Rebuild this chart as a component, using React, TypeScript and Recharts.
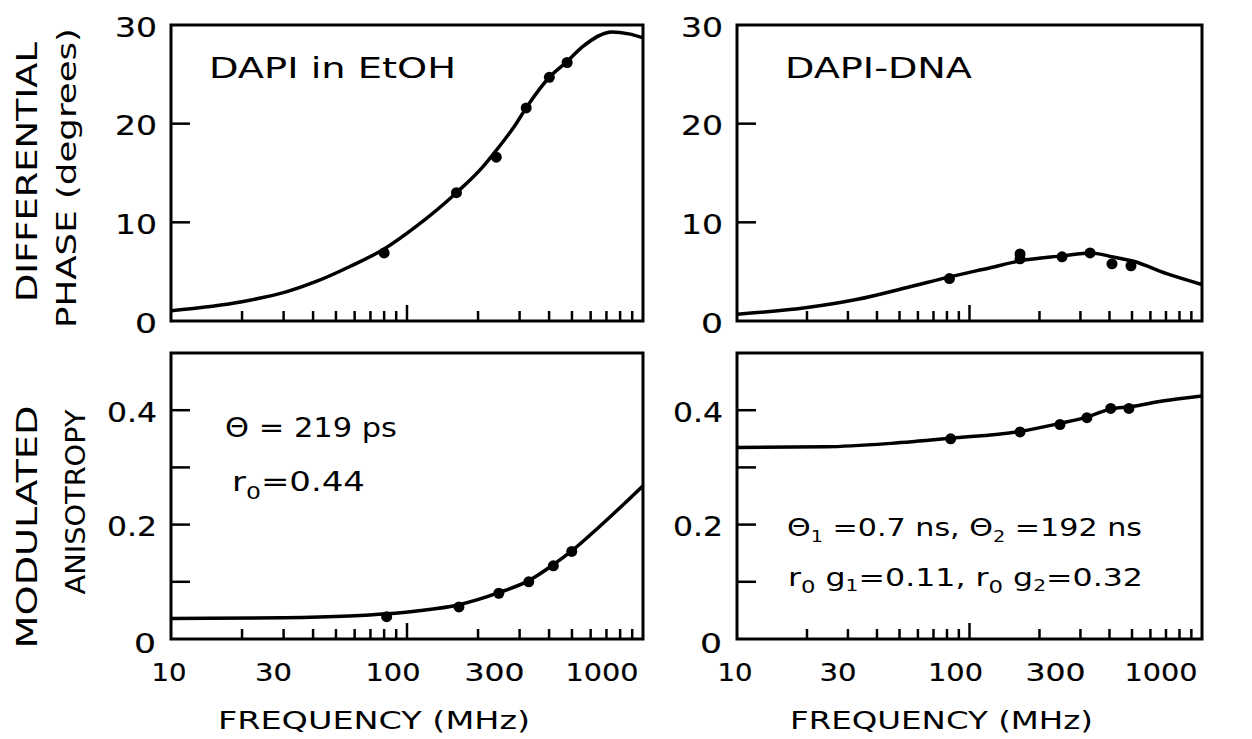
import { ComposedChart, Line, Scatter, XAxis, YAxis, ReferenceArea } from 'recharts';

const FONT = '"DejaVu Sans", sans-serif';

const freqTicks = [10, 20, 30, 40, 50, 60, 70, 80, 90, 100, 200, 300, 400, 500, 600, 700, 800, 900, 1000];
const freqLabels = [10, 30, 100, 300, 1000];
const phaseTicks = [0, 10, 20, 30];
const anisoTicks = [0, 0.1, 0.2, 0.3, 0.4, 0.5];
const anisoLabels = [0, 0.2, 0.4];

// DAPI in EtOH, differential phase
const etohPhaseFitFreq = [10, 20, 31, 41, 57, 80, 109, 162, 209, 239, 290, 320, 401, 477, 555, 740, 871, 1000];
const etohPhaseFitVal = [1.05, 1.96, 2.97, 3.98, 5.5, 7.3, 9.56, 13.0, 15.6, 17.3, 20.0, 21.6, 24.7, 26.3, 27.8, 29.3, 29.1, 28.7];
const etohPhaseFreq = [80, 162, 239, 320, 401, 477];
const etohPhaseVal = [6.9, 13.0, 16.6, 21.6, 24.7, 26.2];

// DAPI-DNA, differential phase
const dnaPhaseFitFreq = [10, 20, 33, 54, 83, 123, 166, 251, 332, 413, 507, 705, 1000];
const dnaPhaseFitVal = [0.68, 1.36, 2.2, 3.4, 4.5, 5.4, 6.1, 6.6, 6.9, 6.5, 6.05, 4.8, 3.7];
const dnaPhaseFreq = [82, 165, 165, 250, 330, 410, 495];
const dnaPhaseVal = [4.3, 6.8, 6.3, 6.5, 6.9, 5.8, 5.6];

// DAPI in EtOH, modulated anisotropy
const etohAnisoFitFreq = [10, 30, 57, 82, 110, 166, 245, 328, 417, 499, 660, 830, 1000];
const etohAnisoFitVal = [0.036, 0.037, 0.04, 0.044, 0.049, 0.06, 0.081, 0.102, 0.13, 0.154, 0.198, 0.236, 0.268];
const etohAnisoFreq = [82, 166, 245, 328, 417, 499];
const etohAnisoVal = [0.039, 0.056, 0.08, 0.1, 0.128, 0.153];

// DAPI-DNA, modulated anisotropy
const dnaAnisoFitFreq = [10, 24, 46, 83, 165, 245, 320, 405, 490, 676, 1000];
const dnaAnisoFitVal = [0.335, 0.336, 0.342, 0.351, 0.363, 0.377, 0.388, 0.402, 0.406, 0.416, 0.425];
const dnaAnisoFreq = [83, 165, 245, 320, 405, 485];
const dnaAnisoVal = [0.35, 0.362, 0.375, 0.387, 0.403, 0.403];

const toRows = (f: number[], v: number[]) => f.map((x, i) => ({ f: x, y: v[i] }));

const labelShift: Record<number, number> = { 10: -2, 30: -10, 100: -14, 300: -25, 1000: -41 };
const labelWidth: Record<number, number> = { 10: 35, 30: 37, 100: 55, 300: 60, 1000: 73 };

function FreqTick(props: any) {
  const { x, y, payload, showLabels } = props;
  const v = payload.value;
  const len = v === 100 ? 16 : v === 10 || v === 1000 ? 0 : 10;
  return (
    <g>
      {len > 0 && <line x1={x} y1={y} x2={x} y2={y - len} stroke="#000" strokeWidth={2.5} />}
      {showLabels && freqLabels.includes(v) && (
        <text
          x={x + labelShift[v] - labelWidth[v] / 2}
          y={y + 42}
          fontSize={25}
          fontFamily={FONT}
          fill="#000"
          stroke="#000"
          strokeWidth={0.2}
          textLength={labelWidth[v]}
          lengthAdjust="spacingAndGlyphs"
        >
          {v}
        </text>
      )}
    </g>
  );
}

function ValueTick(props: any) {
  const { x, y, payload, labels, lo, hi, bottomRow } = props;
  const v = payload.value;
  const edge = v === lo || v === hi;
  const show = labels.includes(v);
  const lowZero = bottomRow && v === 0;
  const label = String(v);
  const w = label.length === 1 ? 22 : label.length === 2 ? 42 : 50;
  const right = lowZero ? x - 15 : x - 14;
  return (
    <g>
      {!edge && <line x1={x} y1={y} x2={x + 19} y2={y} stroke="#000" strokeWidth={2.5} />}
      {show && (
        <text
          x={right - w}
          y={lowZero ? y + 4 : y + 2}
          dominantBaseline="central"
          fontSize={27}
          fontFamily={FONT}
          fill="#000"
          stroke="#000"
          strokeWidth={0.2}
          textLength={w}
          lengthAdjust="spacingAndGlyphs"
        >
          {label}
        </text>
      )}
    </g>
  );
}

type PanelProps = {
  left: number;
  top: number;
  plotW: number;
  plotH: number;
  bottomRow: boolean;
  fit: { f: number; y: number }[];
  pts: { f: number; y: number }[];
};

function Panel({ left, top, plotW, plotH, bottomRow, fit, pts }: PanelProps) {
  const yw = 70;
  const mt = 12;
  const xh = bottomRow ? 50 : 26;
  const lo = 0;
  const hi = bottomRow ? 0.5 : 30;
  const yTicks = bottomRow ? anisoTicks : phaseTicks;
  const yLabels = bottomRow ? anisoLabels : phaseTicks;
  return (
    <div style={{ position: 'absolute', left: left - yw, top: top - mt }}>
      <ComposedChart width={yw + plotW + 12} height={mt + plotH + xh} margin={{ top: mt, right: 12, left: 0, bottom: 0 }}>
        <XAxis
          dataKey="f"
          type="number"
          scale="log"
          domain={[10, 1000]}
          allowDataOverflow
          ticks={freqTicks}
          interval={0}
          height={xh}
          axisLine={false}
          tickLine={false}
          tickSize={0}
          tickMargin={0}
          tick={(p: any) => <FreqTick {...p} showLabels={bottomRow} />}
        />
        <YAxis
          type="number"
          domain={[lo, hi]}
          allowDataOverflow
          ticks={yTicks}
          interval={0}
          width={yw}
          axisLine={false}
          tickLine={false}
          tickSize={0}
          tickMargin={0}
          tick={(p: any) => <ValueTick {...p} labels={yLabels} lo={lo} hi={hi} bottomRow={bottomRow} />}
        />
        <ReferenceArea x1={10} x2={1000} y1={lo} y2={hi} fill="none" stroke="#000" strokeWidth={3} />
        <Line data={fit} dataKey="y" type="monotone" stroke="#000" strokeWidth={3.5} dot={false} isAnimationActive={false} />
        <Scatter
          data={pts}
          dataKey="y"
          fill="#000"
          isAnimationActive={false}
          shape={(p: any) => <circle cx={p.cx} cy={p.cy} r={5.5} fill="#000" />}
        />
      </ComposedChart>
    </div>
  );
}

const txt = { fontFamily: FONT, fill: '#000' } as const;
const fitW = (w: number) => ({ textLength: w, lengthAdjust: 'spacingAndGlyphs' as const });

export default function App() {
  return (
    <div style={{ position: 'absolute', left: 0, top: 0, width: 1252, height: 739, background: '#fff', overflow: 'hidden' }}>
      <Panel left={171} top={25} plotW={472} plotH={296} bottomRow={false}
        fit={toRows(etohPhaseFitFreq, etohPhaseFitVal)} pts={toRows(etohPhaseFreq, etohPhaseVal)} />
      <Panel left={737} top={25} plotW={465} plotH={296} bottomRow={false}
        fit={toRows(dnaPhaseFitFreq, dnaPhaseFitVal)} pts={toRows(dnaPhaseFreq, dnaPhaseVal)} />
      <Panel left={171} top={353} plotW={472} plotH={286} bottomRow
        fit={toRows(etohAnisoFitFreq, etohAnisoFitVal)} pts={toRows(etohAnisoFreq, etohAnisoVal)} />
      <Panel left={737} top={353} plotW={465} plotH={286} bottomRow
        fit={toRows(dnaAnisoFitFreq, dnaAnisoFitVal)} pts={toRows(dnaAnisoFreq, dnaAnisoVal)} />

      <svg width={1252} height={739} style={{ position: 'absolute', left: 0, top: 0, pointerEvents: 'none' }}>
        {/* y axis titles */}
        <text {...txt} fontSize={28} textAnchor="middle" {...fitW(260)} transform="translate(37,172) rotate(-90)">DIFFERENTIAL</text>
        <text {...txt} fontSize={27} textAnchor="middle" {...fitW(300)} transform="translate(76,178) rotate(-90)">PHASE (degrees)</text>
        <text {...txt} fontSize={29} textAnchor="middle" {...fitW(243)} transform="translate(37,527) rotate(-90)">MODULATED</text>
        <text {...txt} fontSize={26} textAnchor="middle" {...fitW(185)} transform="translate(85,502) rotate(-90)">ANISOTROPY</text>

        {/* x axis titles */}
        <text {...txt} x={218} y={729} fontSize={25} {...fitW(312)}>FREQUENCY (MHz)</text>
        <text {...txt} x={790} y={729} fontSize={25} {...fitW(303)}>FREQUENCY (MHz)</text>

        {/* panel annotations */}
        <text {...txt} x={209} y={78} fontSize={29} {...fitW(247)}>DAPI in EtOH</text>
        <text {...txt} x={785} y={78} fontSize={29} {...fitW(187)}>DAPI-DNA</text>

        <text {...txt} x={225} y={437} fontSize={26} {...fitW(172)}>Θ = 219 ps</text>
        <text {...txt} x={232} y={491} fontSize={26} {...fitW(133)}>
          r<tspan fontSize={18} dy={8}>0</tspan><tspan dy={-8}>=0.44</tspan>
        </text>

        <text {...txt} x={787} y={536} fontSize={25} {...fitW(355)}>
          Θ<tspan fontSize={16} dy={6}>1</tspan><tspan dy={-6}> =0.7 ns,  Θ</tspan>
          <tspan fontSize={16} dy={6}>2</tspan><tspan dy={-6}> =192 ns</tspan>
        </text>
        <text {...txt} x={788} y={586} fontSize={25} {...fitW(355)}>
          r<tspan fontSize={18} dy={7}>0</tspan><tspan dy={-7}> g</tspan><tspan fontSize={16} dy={5}>1</tspan>
          <tspan dy={-5}>=0.11,  r</tspan><tspan fontSize={18} dy={7}>0</tspan><tspan dy={-7}> g</tspan>
          <tspan fontSize={16} dy={5}>2</tspan><tspan dy={-5}>=0.32</tspan>
        </text>
      </svg>
    </div>
  );
}
